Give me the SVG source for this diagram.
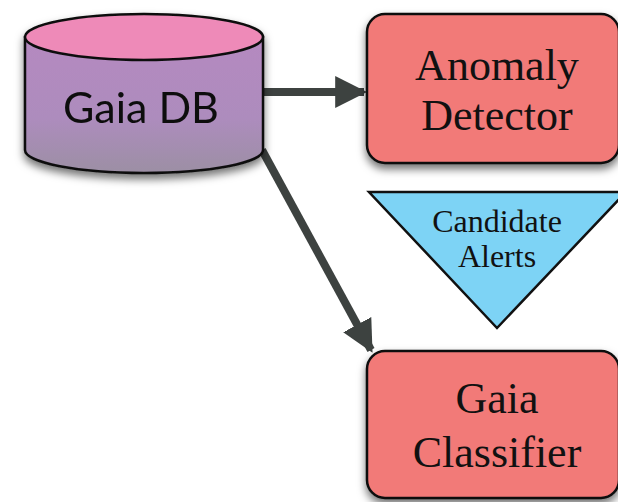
<svg xmlns="http://www.w3.org/2000/svg" width="618" height="502" viewBox="0 0 618 502">
<defs>
<linearGradient id="body" x1="0" y1="0" x2="0" y2="1">
<stop offset="0" stop-color="#B589C0"/>
<stop offset="0.6" stop-color="#AD8CBD"/>
<stop offset="1" stop-color="#9C8FA4"/>
</linearGradient>
<filter id="sh" x="-20%" y="-20%" width="140%" height="150%">
<feDropShadow dx="0" dy="5" stdDeviation="4" flood-color="#000" flood-opacity="0.55"/>
</filter>
<marker id="ah" viewBox="0 0 10 10" refX="9" refY="5" markerWidth="4" markerHeight="4" orient="auto" markerUnits="strokeWidth">
<path d="M0,0 L10,5 L0,10 z" fill="#3D4240"/>
</marker>
</defs>
<style>
.edge{stroke:#3D4240;stroke-width:8;fill:none}
.box{fill:#F27A78;stroke:#111;stroke-width:2.5}
.serif{font-family:"Liberation Serif","DejaVu Serif",serif;fill:#111;text-anchor:middle}
.sans{font-family:Lato,"Liberation Sans",sans-serif;fill:#111;text-anchor:middle}
</style>
<g id="connectors">
<path class="edge" d="M263,92 L364,92" marker-end="url(#ah)"/>
<path class="edge" d="M262,150 L371,350" marker-end="url(#ah)"/>
</g>
<g id="gaia-db" filter="url(#sh)">
<path d="M25,37 L25,150 A119,23 0 0 0 263,150 L263,37 Z" fill="url(#body)" stroke="#111" stroke-width="2.5"/>
<ellipse cx="144" cy="37" rx="119" ry="23" fill="#EE8AB8" stroke="#111" stroke-width="2.5"/>
<text class="sans" x="141" y="123" font-size="43">Gaia DB</text>
</g>
<g id="anomaly-detector">
<rect class="box" x="367" y="14" width="252" height="149" rx="18" filter="url(#sh)"/>
<text class="serif" x="497" y="80" font-size="44">Anomaly</text>
<text class="serif" x="497" y="130" font-size="44">Detector</text>
</g>
<g id="candidate-alerts">
<polygon points="369,192 626,192 497,328" fill="#7DD3F5" stroke="#111" stroke-width="2.5"/>
<text class="serif" x="497" y="232" font-size="32">Candidate</text>
<text class="serif" x="497" y="267" font-size="32">Alerts</text>
</g>
<g id="gaia-classifier">
<rect class="box" x="367" y="351" width="252" height="147" rx="18" filter="url(#sh)"/>
<text class="serif" x="497" y="413" font-size="44">Gaia</text>
<text class="serif" x="497" y="467" font-size="44">Classifier</text>
</g>
</svg>
